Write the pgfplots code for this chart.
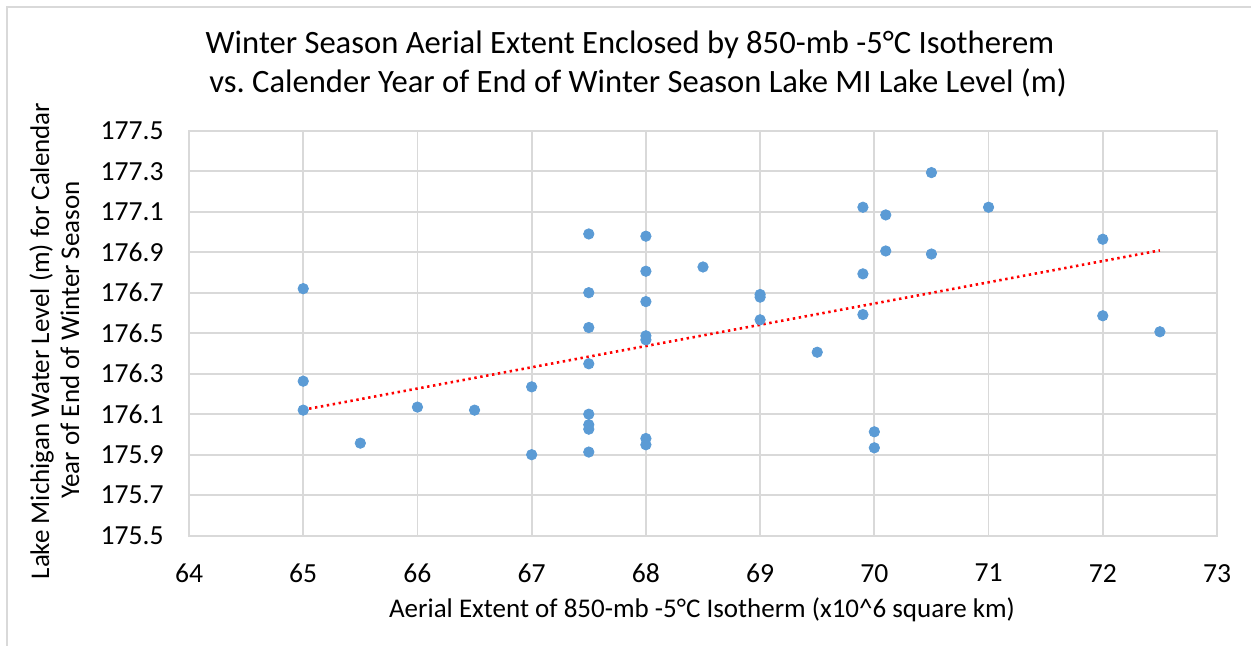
\documentclass[border=0pt]{standalone}
\usepackage{pgfplots}
\usepackage{pgfplotstable}
\pgfplotsset{compat=1.18}
\usepackage{fontspec}
\setmainfont{Carlito}
\frenchspacing
\definecolor{dotblue}{HTML}{5B9BD5}
\definecolor{gridgray}{HTML}{D9D9D9}
\pgfplotstableread{
x y
65 176.72
65 176.263
65 176.12
65.5 175.957
66 176.135
66.5 176.12
67 176.235
67 175.90
67.5 176.99
67.5 176.70
67.5 176.528
67.5 176.349
67.5 176.10
67.5 176.048
67.5 176.026
67.5 175.913
68 176.979
68 176.806
68 176.656
68 176.487
68 176.467
68 175.98
68 175.949
68.5 176.827
69 176.691
69 176.678
69 176.566
69.5 176.406
69.9 177.122
69.9 176.793
69.9 176.592
70 176.013
70 175.934
70.1 177.084
70.1 176.906
70.5 177.293
70.5 176.891
71 177.122
72 176.964
72 176.586
72.5 176.507
}\datatable
\begin{document}
\begin{tikzpicture}
\useasboundingbox (0pt,0pt) rectangle (625.5pt,323pt);
\draw[gridgray, line width=1pt] (3.5pt,-10pt) -- (3.5pt,319.5pt) -- (640pt,319.5pt);
\begin{axis}[
  at={(94.5pt,55.15pt)}, anchor=south west,
  width=514pt, height=202.5pt, scale only axis,
  xmin=64, xmax=73, ymin=175.5, ymax=177.5,
  xtick={64,65,66,67,68,69,70,71,72,73},
  ytick={175.5,175.7,175.9,176.1,176.3,176.5,176.7,176.9,177.1,177.3,177.5},
  /pgf/number format/assume math mode=true,
  yticklabel style={/pgf/number format/.cd, fixed, fixed zerofill, precision=1, /tikz/.cd, inner sep=0pt, anchor=east, xshift=-12.5pt},
  xticklabel style={inner sep=0pt, anchor=north, yshift=-14pt},
  tick label style={font=\fontsize{13.8pt}{16pt}\selectfont, text=black},
  grid=major,
  major grid style={gridgray, line width=0.9pt},
  axis line style={gridgray, line width=0.9pt},
  tick style={draw=none},
]
\addplot[only marks, mark=*, mark size=2.6pt, mark options={fill=dotblue, draw=dotblue}] table[x=x, y=y] \datatable;
\addplot[red, line width=1.3pt, dash pattern=on 1.2pt off 1.8pt] table[x=x, y={create col/linear regression={y=y}}] \datatable;
\end{axis}
\node[anchor=base, font=\fontsize{16.3pt}{19pt}\selectfont] at (315pt,296pt) {Winter Season Aerial Extent Enclosed by 850-mb -5°C Isotherem};
\node[anchor=base, font=\fontsize{16.3pt}{19pt}\selectfont] at (319pt,276.5pt) {vs. Calender Year of End of Winter Season Lake MI Lake Level (m)};
\node[anchor=base, font=\fontsize{13.5pt}{16pt}\selectfont] at (351pt,14pt) {Aerial Extent of 850-mb -5°C Isotherm (x10\^{}6 square km)};
\node[anchor=base, rotate=90, font=\fontsize{13.5pt}{16pt}\selectfont] at (24.5pt,152.5pt) {Lake Michigan Water Level (m) for Calendar};
\node[anchor=base, rotate=90, font=\fontsize{13.5pt}{16pt}\selectfont] at (39.5pt,153pt) {Year of End of Winter Season};
\end{tikzpicture}
\end{document}
